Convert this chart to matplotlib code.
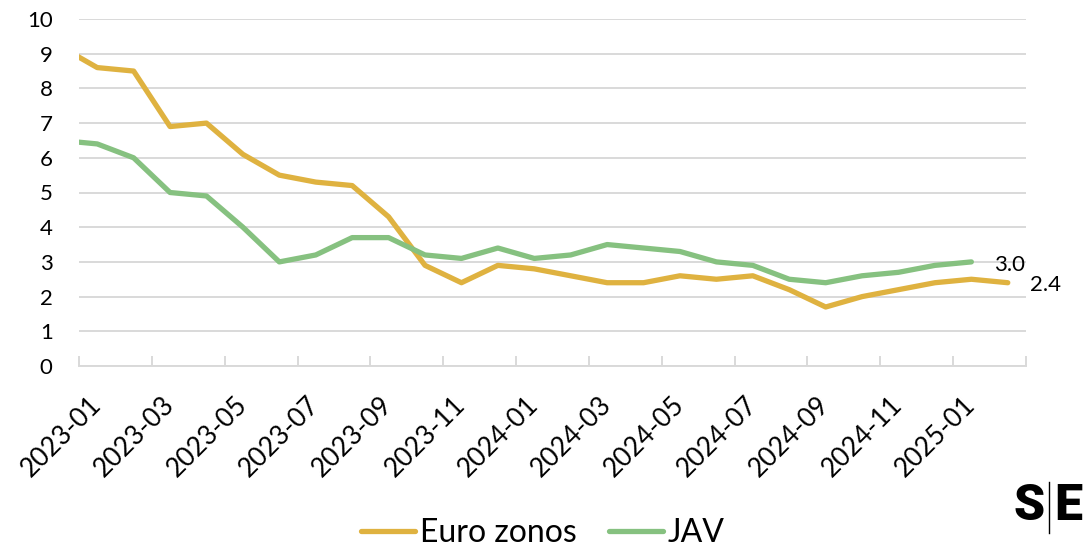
import numpy as np
import matplotlib
matplotlib.use("Agg")
import matplotlib.pyplot as plt
from matplotlib.ticker import FixedLocator

plt.rcParams['font.family'] = ['Lato', 'DejaVu Sans']

# monthly inflation, % y/y (first month only feeds the clipped edge segment)
months = ['2022-12', '2023-01', '2023-02', '2023-03', '2023-04', '2023-05', '2023-06',
          '2023-07', '2023-08', '2023-09', '2023-10', '2023-11', '2023-12',
          '2024-01', '2024-02', '2024-03', '2024-04', '2024-05', '2024-06',
          '2024-07', '2024-08', '2024-09', '2024-10', '2024-11', '2024-12',
          '2025-01', '2025-02']
euro = [9.2, 8.6, 8.5, 6.9, 7.0, 6.1, 5.5, 5.3, 5.2, 4.3, 2.9, 2.4, 2.9,
        2.8, 2.6, 2.4, 2.4, 2.6, 2.5, 2.6, 2.2, 1.7, 2.0, 2.2, 2.4, 2.5, 2.4]
usa = [6.5, 6.4, 6.0, 5.0, 4.9, 4.0, 3.0, 3.2, 3.7, 3.7, 3.2, 3.1, 3.4,
       3.1, 3.2, 3.5, 3.4, 3.3, 3.0, 2.9, 2.5, 2.4, 2.6, 2.7, 2.9, 3.0, np.nan]
series_names = ['Euro zonos', 'JAV']

EURO_C = '#DFB240'
US_C = '#86C180'
GRID_C = '#D9D9D9'

x = np.arange(len(months)) - 1  # 2023-01 sits at 0

fig = plt.figure(figsize=(10.86, 5.49), dpi=100)
ax = fig.add_axes([79 / 1086, 1 - 366 / 549, (1026 - 79) / 1086, (366 - 19) / 549])

ax.plot(x, euro, color=EURO_C, lw=3.8, label=series_names[0], solid_capstyle='round', zorder=3)
ax.plot(x, usa, color=US_C, lw=3.8, label=series_names[1], solid_capstyle='round', zorder=3)

ax.set_xlim(-0.5, len(months) - 1.5)
ax.set_ylim(0, 10)
ax.set_yticks(range(0, 11))
ax.yaxis.grid(True, color=GRID_C, lw=1.4)
ax.set_axisbelow(True)

for s in ['top', 'right', 'left']:
    ax.spines[s].set_visible(False)
ax.spines['bottom'].set_color(GRID_C)
ax.spines['bottom'].set_linewidth(1.4)

# labels every second month, tick marks between categories
ax.set_xticks(x[1::2])
ax.set_xticklabels(months[1::2], rotation=45, ha='right', va='center',
                   rotation_mode='anchor', fontsize=19)
ax.xaxis.set_minor_locator(FixedLocator(np.arange(-0.5, len(months) - 1, 2)))
ax.tick_params(axis='x', which='major', length=0, pad=25)
ax.tick_params(axis='x', which='minor', length=7, width=1.4, color=GRID_C, direction='in')
ax.tick_params(axis='y', length=0, pad=19, labelsize=16)

# end-of-line value labels
i_us = max(i for i, v in enumerate(usa) if not np.isnan(v))
ax.annotate(f'{usa[i_us]:.1f}', (x[i_us], usa[i_us]), xytext=(16, -2),
            textcoords='offset points', va='center', ha='left', fontsize=16)
ax.annotate(f'{euro[-1]:.1f}', (x[-1], euro[-1]), xytext=(16, -2),
            textcoords='offset points', va='center', ha='left', fontsize=16)

fig.legend(loc='lower center', bbox_to_anchor=(0.5, -0.05), ncol=2, frameon=False,
           fontsize=23, handlelength=1.7, handletextpad=0.15, columnspacing=1.0)

# logo
fig.text(1045 / 1086, 1 - 507 / 549, 'S', ha='right', va='center', fontsize=36,
         fontweight='black', family='Roboto')
fig.text(1054 / 1086, 1 - 507 / 549, 'E', ha='left', va='center', fontsize=36,
         fontweight='black', family='Roboto')
fig.add_artist(plt.Line2D([1049 / 1086, 1049 / 1086], [1 - 533 / 549, 1 - 482 / 549],
                          color='black', lw=1.0))

fig.savefig('out.png', dpi=100)
